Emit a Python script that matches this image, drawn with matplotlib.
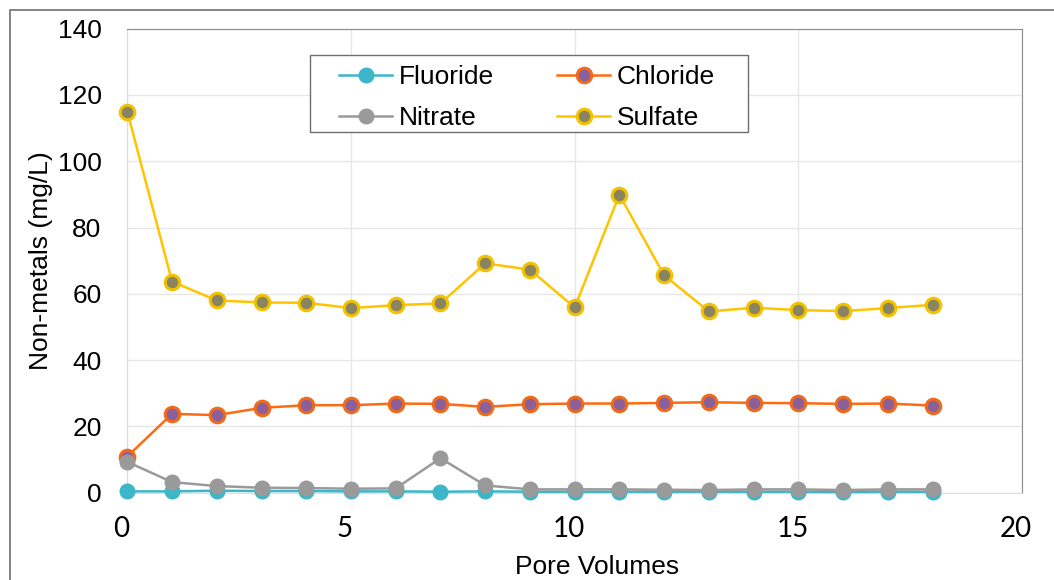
import matplotlib.pyplot as plt
import matplotlib.transforms as mtransforms
from matplotlib.patches import Rectangle

pore_volumes = list(range(19))

fluoride = [0.4, 0.4, 0.6, 0.5, 0.5, 0.4, 0.4, 0.3, 0.4, 0.3, 0.3, 0.3, 0.3, 0.3, 0.3, 0.3, 0.2, 0.3, 0.3]
chloride = [10.9, 23.8, 23.4, 25.6, 26.4, 26.4, 26.9, 26.8, 25.9, 26.7, 26.9, 26.9, 27.1, 27.3, 27.1, 27.0, 26.8, 26.9, 26.3]
nitrate = [9.3, 3.2, 2.0, 1.5, 1.4, 1.2, 1.3, 10.4, 2.2, 1.0, 1.0, 1.0, 0.9, 0.8, 1.0, 1.0, 0.8, 1.0, 1.0]
sulfate = [115.0, 63.7, 58.0, 57.4, 57.3, 55.7, 56.6, 57.1, 69.2, 67.3, 55.9, 89.9, 65.6, 54.7, 55.8, 55.1, 54.8, 55.7, 56.7]

W, H = 1054, 580
fig = plt.figure(figsize=(W / 100, H / 100), dpi=100)
x0, x1, y0, y1 = 127.3, 1022, 28.7, 492.7
ax = fig.add_axes([x0 / W, 1 - y1 / H, (x1 - x0) / W, (y1 - y0) / H])

# outer chart frame (only left and top visible)
fig.patches.append(Rectangle((10 / W, -0.5), 2, 1.5 - 10 / H, transform=fig.transFigure,
                             fill=False, edgecolor='#6e6e6e', linewidth=1.2))

lw = 1.8
ms = 10.5
h_f, = ax.plot(pore_volumes, fluoride, color='#3cb6c8', marker='o', lw=lw, ms=ms,
               mfc='#3cb6c8', mec='#3cb6c8', label='Fluoride', zorder=3, clip_on=False)
h_c, = ax.plot(pore_volumes, chloride, color='#ff6a10', marker='o', lw=lw, ms=ms,
               mfc='#8a5f9a', mec='#ee6a1c', mew=2.2, label='Chloride', zorder=3, clip_on=False)
h_n, = ax.plot(pore_volumes, nitrate, color='#9a9a9a', marker='o', lw=lw, ms=ms,
               mfc='#9a9a9a', mec='#9a9a9a', label='Nitrate', zorder=4, clip_on=False)
h_s, = ax.plot(pore_volumes, sulfate, color='#ffc400', marker='o', lw=lw, ms=ms,
               mfc='#8a8560', mec='#f2c200', mew=2.2, label='Sulfate', zorder=3, clip_on=False)

ax.set_xlim(0, 20)
ax.set_ylim(0, 140)
ax.set_xticks([0, 5, 10, 15, 20])
ax.set_yticks(range(0, 141, 20))
ax.grid(True, color='#e6e6e6', linewidth=1)
ax.set_axisbelow(True)

for s in ['top', 'right']:
    ax.spines[s].set_color('#8c8c8c')
for s in ['left', 'bottom']:
    ax.spines[s].set_color('#dcdcdc')
ax.tick_params(length=0)
ax.tick_params(axis='y', labelsize=19, pad=18.5)
ax.tick_params(axis='x', labelsize=20, pad=17)
for t in ax.get_yticklabels():
    t.set_fontfamily('Liberation Sans')
shift = mtransforms.ScaledTranslation(-6 / 100, 0, fig.dpi_scale_trans)
for t in ax.get_xticklabels():
    t.set_fontfamily('Lato')
    t.set_transform(t.get_transform() + shift)

ax.set_xlabel('Pore Volumes', fontsize=19, fontfamily='Liberation Sans')
ax.xaxis.set_label_coords((597 - x0) / (x1 - x0), -(555 - y1) / (y1 - y0))
ax.set_ylabel('Non-metals (mg/L)', fontsize=19, fontfamily='Liberation Sans', labelpad=3)

# legend, row-major order as in the reference
leg = ax.legend([h_f, h_n, h_c, h_s], ['Fluoride', 'Nitrate', 'Chloride', 'Sulfate'],
                ncol=2, loc='upper left',
                bbox_to_anchor=((321 - x0) / (x1 - x0), (y1 - 47) / (y1 - y0)),
                prop={'family': 'Liberation Sans', 'size': 19}, frameon=False,
                handlelength=2.0, columnspacing=2.4, borderpad=0.2,
                labelspacing=0.62, handletextpad=0.25)
ax.add_patch(Rectangle(((310 - x0) / (x1 - x0), (y1 - 132) / (y1 - y0)),
                       (748 - 310) / (x1 - x0), (132 - 55) / (y1 - y0),
                       transform=ax.transAxes, fill=True, facecolor='white',
                       edgecolor='#6e6e6e', linewidth=1.0, zorder=5))
leg.set_zorder(6)

plt.savefig('out.png', dpi=100)
